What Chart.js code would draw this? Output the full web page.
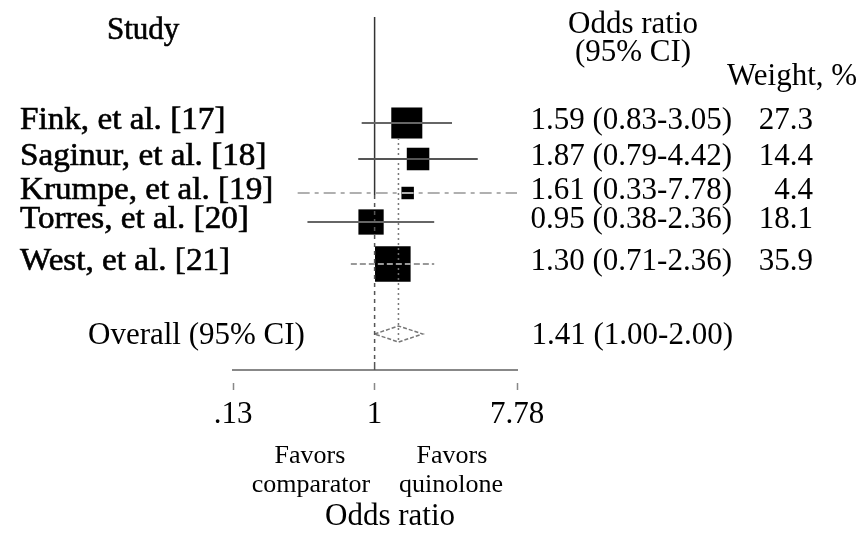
<!DOCTYPE html>
<html>
<head>
<meta charset="utf-8">
<script src="https://cdn.jsdelivr.net/npm/chart.js@4.4.0/dist/chart.umd.min.js"></script>
<style>
  html, body { margin: 0; padding: 0; background: #fff; }
  #wrap { width: 867px; height: 537px; }
</style>
</head>
<body>
<div id="wrap"><canvas id="forest" width="867" height="537"></canvas></div>
<script>
// Forest plot: quinolone vs comparator, odds ratios on a log axis.
const studies = ['Fink, et al. [17]', 'Saginur, et al. [18]', 'Krumpe, et al. [19]', 'Torres, et al. [20]', 'West, et al. [21]'];
const oddsRatio = [1.59, 1.87, 1.61, 0.95, 1.30];
const ciLow = [0.83, 0.79, 0.33, 0.38, 0.71];
const ciHigh = [3.05, 4.42, 7.78, 2.36, 2.36];
const weights = [27.3, 14.4, 4.4, 18.1, 35.9];
const rowPos = [12.3, 15.9, 19.3, 22.2, 26.4]; // row centres, top = 0

const overallOR = 1.41;
const overallLow = 1.00;
const overallHigh = 2.00;
const overallPos = 33.4;

const xTicks = [0.13, 1, 7.78];
const xTickLabels = ['.13', '1', '7.78'];

const SERIF = '"Liberation Serif", "Times New Roman", serif';
const ciStyle = [
  { color: '#666', dash: [] },
  { color: '#555', dash: [] },
  { color: '#b0b0b0', dash: [12, 5, 4, 5] },
  { color: '#666', dash: [] },
  { color: '#999', dash: [6, 3] },
];

function fmtCI(or, lo, hi) {
  return `${or.toFixed(2)} (${lo.toFixed(2)}-${hi.toFixed(2)})`;
}

const datasets = [];

// confidence interval whiskers
studies.forEach((s, i) => {
  datasets.push({
    data: [{ x: ciLow[i], y: rowPos[i] }, { x: ciHigh[i], y: rowPos[i] }],
    showLine: true,
    borderColor: ciStyle[i].color,
    borderDash: ciStyle[i].dash,
    borderWidth: 2,
    pointRadius: 0,
  });
});

// line of no effect (solid, then dashed below the Krumpe row)
datasets.push({
  data: [{ x: 1, y: 1.7 }, { x: 1, y: 19.5 }],
  showLine: true, borderColor: '#333', borderWidth: 1.5, pointRadius: 0,
});
datasets.push({
  data: [{ x: 1, y: 19.5 }, { x: 1, y: 36.2 }],
  showLine: true, borderColor: '#555', borderWidth: 1.5, borderDash: [4, 4], pointRadius: 0,
});
datasets.push({
  data: [{ x: 1, y: 36.2 }, { x: 1, y: 37 }],
  showLine: true, borderColor: '#555', borderWidth: 1.5, pointRadius: 0,
});

// pooled estimate reference line
datasets.push({
  data: [{ x: overallOR, y: 13.8 }, { x: overallOR, y: overallPos + 0.8 }],
  showLine: true, borderColor: '#777', borderWidth: 1.5, borderDash: [2, 3], pointRadius: 0,
});

// pooled diamond
datasets.push({
  data: [
    { x: overallLow, y: overallPos },
    { x: overallOR, y: overallPos - 0.8 },
    { x: overallHigh, y: overallPos },
    { x: overallOR, y: overallPos + 0.8 },
    { x: overallLow, y: overallPos },
  ],
  showLine: true, borderColor: '#777', borderWidth: 1.5, borderDash: [4, 2], pointRadius: 0,
});

// weighted boxes (area ~ weight)
datasets.push({
  data: studies.map((s, i) => ({ x: oddsRatio[i], y: rowPos[i] })),
  pointStyle: 'rect',
  pointRadius: ctx => 4.2 * Math.sqrt(weights[ctx.dataIndex]),
  backgroundColor: '#000',
  borderColor: '#000',
  borderWidth: 0,
});

// heavier, slightly wide text for the study column
function heavyText(ctx, txt, x, y, sx) {
  ctx.save();
  ctx.translate(x, y);
  ctx.scale(sx, 1);
  ctx.fillText(txt, 0, 0);
  ctx.strokeText(txt, 0, 0);
  ctx.restore();
}

const textPlugin = {
  id: 'forestText',
  afterDraw(chart) {
    const ctx = chart.ctx;
    const y = chart.scales.y;
    ctx.save();
    ctx.fillStyle = '#000';
    ctx.strokeStyle = '#000';
    ctx.lineWidth = 0.6;
    ctx.textBaseline = 'alphabetic';

    ctx.font = `31px ${SERIF}`;
    ctx.textAlign = 'left';
    heavyText(ctx, 'Study', 107, 39, 1.0);
    studies.forEach((s, i) => heavyText(ctx, s, 20, y.getPixelForValue(rowPos[i]) + 6, 1.07));

    ctx.textAlign = 'center';
    ctx.fillText('Odds ratio', 633, 33);
    ctx.fillText('(95% CI)', 633, 61);
    ctx.textAlign = 'left';
    ctx.fillText('Weight, %', 727, 85);

    ctx.textAlign = 'right';
    studies.forEach((s, i) => {
      const py = y.getPixelForValue(rowPos[i]) + 6;
      ctx.fillText(fmtCI(oddsRatio[i], ciLow[i], ciHigh[i]), 732, py);
      ctx.fillText(weights[i].toFixed(1), 813, py);
    });
    const oy = y.getPixelForValue(overallPos) + 10;
    ctx.fillText(fmtCI(overallOR, overallLow, overallHigh), 733, oy);
    ctx.textAlign = 'left';
    ctx.fillText('Overall (95% CI)', 88, oy);

    ctx.font = `26px ${SERIF}`;
    ctx.textAlign = 'center';
    ctx.fillText('Favors', 310, 463);
    ctx.fillText('comparator', 311, 492);
    ctx.fillText('Favors', 452, 463);
    ctx.fillText('quinolone', 451, 492);

    ctx.font = `31px ${SERIF}`;
    ctx.fillText('Odds ratio', 390, 525);
    ctx.restore();
  },
};

new Chart(document.getElementById('forest'), {
  type: 'scatter',
  data: { datasets },
  options: {
    responsive: false,
    animation: false,
    layout: { autoPadding: false, padding: { left: 233, right: 350, top: 0, bottom: 0 } },
    plugins: { legend: { display: false }, tooltip: { enabled: false } },
    elements: { line: { tension: 0, fill: false } },
    scales: {
      x: {
        type: 'logarithmic',
        min: 0.13,
        max: 7.78,
        afterBuildTicks: scale => { scale.ticks = xTicks.map(v => ({ value: v })); },
        afterFit: scale => { scale.height = 167; },
        ticks: {
          color: '#000',
          font: { family: SERIF, size: 31 },
          padding: 6,
          autoSkip: false,
          maxRotation: 0,
          callback: (v) => xTickLabels[xTicks.indexOf(v)] ?? '',
        },
        grid: {
          drawOnChartArea: false,
          drawTicks: true,
          tickLength: 20,
          tickColor: '#888',
          tickWidth: 1.5,
          tickBorderDash: [0, 12, 8, 100],
        },
        border: { display: true, color: '#888', width: 2 },
      },
      y: {
        type: 'linear',
        display: false,
        min: 0,
        max: 37,
        reverse: true,
      },
    },
  },
  plugins: [textPlugin],
});
</script>
</body>
</html>
